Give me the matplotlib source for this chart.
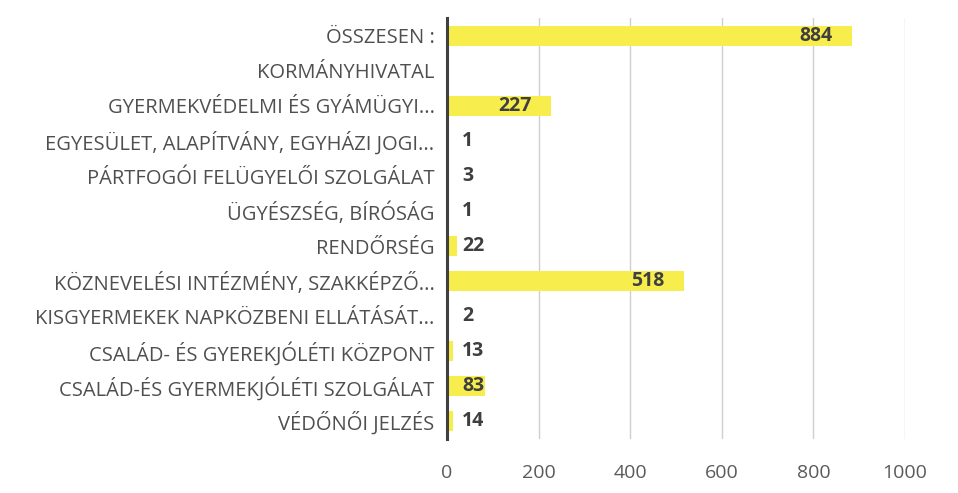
import matplotlib
matplotlib.use("Agg")
import matplotlib.pyplot as plt

categories = [
    "ÖSSZESEN :",
    "KORMÁNYHIVATAL",
    "GYERMEKVÉDELMI ÉS GYÁMÜGYI...",
    "EGYESÜLET, ALAPÍTVÁNY, EGYHÁZI JOGI...",
    "PÁRTFOGÓI FELÜGYELŐI SZOLGÁLAT",
    "ÜGYÉSZSÉG, BÍRÓSÁG",
    "RENDŐRSÉG",
    "KÖZNEVELÉSI INTÉZMÉNY, SZAKKÉPZŐ...",
    "KISGYERMEKEK NAPKÖZBENI ELLÁTÁSÁT...",
    "CSALÁD- ÉS GYEREKJÓLÉTI KÖZPONT",
    "CSALÁD-ÉS GYERMEKJÓLÉTI SZOLGÁLAT",
    "VÉDŐNŐI JELZÉS",
]
values = [884, None, 227, 1, 3, 1, 22, 518, 2, 13, 83, 14]
xticks = [0, 200, 400, 600, 800, 1000]

plt.rcParams['font.family'] = ['Open Sans', 'DejaVu Sans']

fig = plt.figure(figsize=(9.58, 4.93), dpi=100)
ax = fig.add_axes([0.4666, 0.1105, 0.478, 0.852])

n = len(categories)
ys = list(range(n))
bar_vals = [v if v is not None else 0 for v in values]
ax.barh(ys, bar_vals, height=0.57, color='#F7EE4E', zorder=2)

for y, v in zip(ys, values):
    if v is None:
        continue
    if v >= 150:
        ax.annotate(str(v), (v, y), xytext=(-14, 0), textcoords='offset points',
                    ha='right', va='center', fontsize=14, fontweight='bold',
                    color='#3F3F3F', zorder=3)
    else:
        ax.annotate(str(v), (0, y), xytext=(11, 0), textcoords='offset points',
                    ha='left', va='center', fontsize=14, fontweight='bold',
                    color='#3F3F3F', zorder=3)

ax.set_ylim(n - 0.5, -0.5)
ax.set_xlim(0, 1000)
ax.set_yticks(ys)
ax.set_yticklabels(categories, fontsize=14.5, color='#4F4F4F')
ax.set_xticks(xticks)
ax.set_xticklabels([str(t) for t in xticks], fontsize=14, color='#5A5A5A')
ax.tick_params(axis='y', length=0, pad=9)
ax.tick_params(axis='x', length=0, pad=18)

ax.grid(axis='x', color='#CFCFCF', linewidth=1.0, zorder=0)
for s in ['top', 'right', 'bottom']:
    ax.spines[s].set_visible(False)
ax.spines['left'].set_color('#404040')
ax.spines['left'].set_linewidth(2.2)
ax.spines['left'].set_zorder(4)

fig.savefig("out.png", dpi=100)
